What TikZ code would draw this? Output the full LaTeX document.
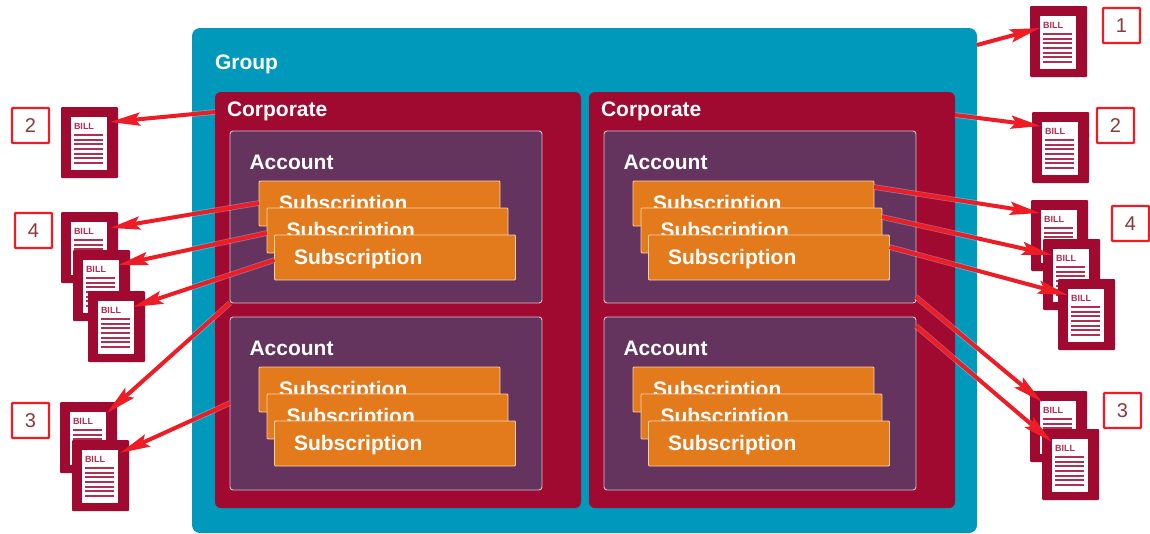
\documentclass[tikz,border=0pt]{standalone}
\usepackage{fontspec}
\setmainfont{Liberation Sans}
\usetikzlibrary{arrows.meta,calc}
\definecolor{grp}{HTML}{0099BC}
\definecolor{corp}{HTML}{A00A30}
\definecolor{acct}{HTML}{64345F}
\definecolor{subs}{HTML}{E37B1C}
\definecolor{arr}{HTML}{EE1C25}
\definecolor{numt}{HTML}{8A3A3A}
\tikzset{
  x=1pt,y=-1pt,
  every node/.style={outer sep=0pt},
  panel/.style={draw=none,rounded corners=#1,inner sep=0pt,anchor=north west},
  lab/.style={text=white,font=\bfseries\fontsize{21}{21}\selectfont,anchor=west,inner sep=0pt},
  groupbox/.style={panel=8pt,fill=grp,minimum width=785pt,minimum height=505pt},
  corpbox/.style={panel=6pt,fill=corp,minimum width=366pt,minimum height=416pt},
  acctbox/.style={panel=3pt,fill=acct,draw=white!70!acct,line width=.9pt,minimum width=312pt,minimum height=172pt},
  subbox/.style={anchor=north west,rounded corners=1pt,fill=subs,draw=white!65!subs,line width=.9pt,minimum width=241pt,minimum height=45pt,inner sep=0pt},
  sublab/.style={text=white,font=\bfseries\fontsize{21}{21}\selectfont,anchor=west,inner sep=0pt},
  billbox/.style={anchor=north west,fill=corp,rounded corners=1pt,minimum width=57pt,minimum height=71pt,inner sep=0pt},
  page/.style={anchor=north west,fill=white,minimum width=36pt,minimum height=53pt,inner sep=0pt},
  billtxt/.style={text=corp!85!white,font=\bfseries\fontsize{9}{9}\selectfont,anchor=west,inner sep=0pt},
  numbox/.style={anchor=north west,draw=arr,line width=2.4pt,rounded corners=.8pt,fill=white,minimum width=37pt,minimum height=35pt,text=numt,font=\fontsize{20}{20}\selectfont,inner sep=0pt},
  billarrow/.style={
    preaction={draw=white,opacity=.3,line width=5.6pt,-,shorten >=24pt},
    draw=arr,line width=4pt,-{Stealth[length=30pt,width=13pt,inset=5pt]}},
}
\newcommand{\billdoc}[3]{%
  \node[billbox] (#1) at (#2,#3) {};
  \node[page] (#1p) at ($(#1.north west)+(10,10)$) {};
  \node[billtxt] (#1t) at ($(#1p.north west)+(3,9.5)$) {BILL};
  \foreach \k in {0,...,6} {\draw[corp!85!white,line width=2.2pt] ($(#1p.north west)+(3,18+\k*4.67)$) -- ++(29,0);}
}
\newcommand{\acctset}[4]{%
  \node[acctbox,minimum height=#4pt] (#1) at (#2,#3) {};
  \node[lab] (#1l) at ($(#1.north west)+(19.5,31)$) {Account};
  \node[subbox] (#1a) at ($(#1.north west)+(29,50)$) {};
  \node[sublab] (#1at) at ($(#1a.north west)+(20,24.5)$) {Subscription};
  \node[subbox] (#1b) at ($(#1.north west)+(37,77)$) {};
  \node[sublab] (#1bt) at ($(#1b.north west)+(19.5,24.5)$) {Subscription};
  \node[subbox] (#1c) at ($(#1.north west)+(44.5,104)$) {};
  \node[sublab] (#1ct) at ($(#1c.north west)+(19.5,24.5)$) {Subscription};
}
\begin{document}
\begin{tikzpicture}
\useasboundingbox (0,0) rectangle (1150,533);
\fill[white] (0,0) rectangle (1150,533);
\node[groupbox] (group) at (192,28) {};
\node[lab] (groupl) at (215,64) {Group};
\node[corpbox] (corpL) at (215,92) {};
\node[lab] (corpLl) at (227,111.5) {Corporate};
\node[corpbox] (corpR) at (589,92) {};
\node[lab] (corpRl) at (601,111.5) {Corporate};
\acctset{aLT}{230}{131}{172}
\acctset{aLB}{230}{317}{173}
\acctset{aRT}{604}{131}{172}
\acctset{aRB}{604}{317}{173}
% bills
\billdoc{bA}{1030}{6}
\billdoc{bB}{1032}{112}
\billdoc{bC}{1031}{200}
\billdoc{bD}{1043}{239}
\billdoc{bE}{1058}{279}
\billdoc{bF}{1030}{391}
\billdoc{bG}{1042}{429}
\billdoc{bH}{61}{107}
\billdoc{bI}{61}{212}
\billdoc{bJ}{73}{250}
\billdoc{bK}{88}{291}
\billdoc{bL}{60}{402}
\billdoc{bM}{72}{440}
% number boxes
\node[numbox] (n1) at (1103,8) {1};
\node[numbox] (n2r) at (1097,108) {2};
\node[numbox] (n4r) at (1112,206) {4};
\node[numbox] (n3r) at (1104,393) {3};
\node[numbox] (n2l) at (12,108) {2};
\node[numbox] (n4l) at (15,213) {4};
\node[numbox] (n3l) at (12,403) {3};
% arrows
\draw[billarrow] ($(group.north east)+(0,17)$) -- ($(bA.north west)+(10,22)$);
\draw[billarrow] ($(corpR.north east)+(0,23)$) -- ($(bB.north west)+(9,14)$);
\draw[billarrow] ($(aRTa.north east)+(0,6)$) -- ($(bC.north west)+(9,13)$);
\draw[billarrow] ($(aRTb.north east)+(0,9)$) -- ($(bD.north west)+(9,16)$);
\draw[billarrow] ($(aRTc.north east)+(0,12)$) -- ($(bE.north west)+(10,16)$);
\draw[billarrow] ($(aRT.south east)+(0,-6)$) -- ($(bF.north west)+(12,11)$);
\draw[billarrow] ($(aRB.north east)+(0,9)$) -- ($(bG.north west)+(10,13)$);
\draw[billarrow] ($(corpL.north west)+(0,20)$) -- ($(bH.north west)+(49,15)$);
\draw[billarrow] ($(aLTa.north west)+(0,22)$) -- ($(bI.north west)+(49,16)$);
\draw[billarrow] ($(aLTb.north west)+(0,25)$) -- ($(bJ.north west)+(45,15)$);
\draw[billarrow] ($(aLTc.north west)+(0,25)$) -- ($(bK.north west)+(45,16)$);
\draw[billarrow] (aLT.south west) -- ($(bL.north west)+(47,11)$);
\draw[billarrow] ($(aLB.north west)+(0,86)$) -- ($(bM.north west)+(48,13)$);
\end{tikzpicture}
\end{document}
